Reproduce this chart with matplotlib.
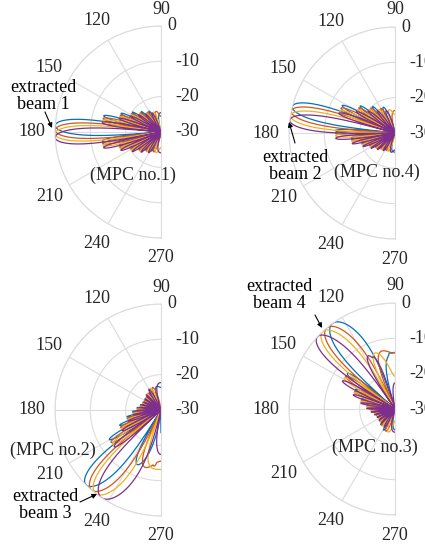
import numpy as np
import matplotlib.pyplot as plt

plt.rcParams['font.family'] = ['Liberation Serif', 'DejaVu Serif']
plt.rcParams['font.size'] = 13

W, H = 425, 544
n_elem = 17
spacing = 0.4  # element spacing in wavelengths
colors = ['#0072BD', '#D95319', '#EDB120', '#7E2F8E']

# steering angle (deg) of the four curves in each panel
mpc1_steer = [176.5, 179.0, 181.0, 183.0]
mpc4_steer = [165.5, 168.0, 170.5, 173.0]
mpc2_steer = [225.0, 229.0, 232.0, 236.0]
mpc3_steer = [126.0, 130.0, 133.0, 137.0]

# extra side beams (direction in deg, level in dB) in the lower panels
mpc2_spur_deg = [276.0, 263.0, 268.0, 281.0]
mpc2_spur_db = [-14.5, -14.0, -13.8, -15.0]
mpc3_spur_deg = [95.0, 91.0, 105.0, 113.0]
mpc3_spur_db = [-14.0, -14.0, -14.5, -14.0]

panel_names = ['(MPC no.1)', '(MPC no.4)', '(MPC no.2)', '(MPC no.3)']
beam_names = ['extracted\nbeam 1', 'extracted\nbeam 2', 'extracted\nbeam 3', 'extracted\nbeam 4']
r_ticks = [0, -10, -20, -30]
theta_ticks = [90, 120, 150, 180, 210, 240, 270]


def fig_xy(x, y):
    return x / W, 1 - y / H


def array_db(theta, steer):
    psi = 2 * np.pi * spacing * (np.sin(theta) - np.sin(np.deg2rad(steer)))
    den = n_elem * np.sin(psi / 2)
    small = np.abs(den) < 1e-9
    af = np.where(small, 1.0, np.sin(n_elem * psi / 2) / np.where(small, 1, den))
    return 20 * np.log10(np.abs(af) + 1e-6)


def spur_db(theta, direction, level):
    d = np.angle(np.exp(1j * (theta - np.deg2rad(direction))))
    x = n_elem * np.pi * spacing * d
    small = np.abs(x) < 1e-9
    af = np.where(small, 1.0, np.sin(x) / np.where(small, 1, x))
    out = level + 20 * np.log10(np.abs(af) + 1e-6)
    return np.where(np.abs(x) < np.pi, out, -100)


theta = np.deg2rad(np.linspace(90, 270, 4000))

panels = [
    (mpc1_steer, None, None),
    (mpc4_steer, None, None),
    (mpc2_steer, mpc2_spur_deg, mpc2_spur_db),
    (mpc3_steer, mpc3_spur_deg, mpc3_spur_db),
]
centers = [(161, 132), (395, 133), (161, 410), (395, 409)]
R = 106

fig = plt.figure(figsize=(W / 100, H / 100), dpi=100)
axes = []

for i, (steer, spur_deg, spur_lvl) in enumerate(panels):
    ax = fig.add_axes([0.1, 0.1, 0.4, 0.4], projection='polar')
    ax.set_thetamin(90)
    ax.set_thetamax(270)
    ax.set_rlim(-30, 0)
    ax.set_rticks([-20, -10, 0])
    ax.set_yticklabels([])
    ax.set_thetagrids(theta_ticks, labels=[])
    ax.grid(color='#dcdcdc', lw=0.8)
    for s in ax.spines.values():
        s.set_color('#dcdcdc')
        s.set_linewidth(0.8)
    ax.patch.set_alpha(0)

    for k in range(4):
        db = array_db(theta, steer[k])
        if spur_deg is not None:
            db = np.maximum(db, spur_db(theta, spur_deg[k], spur_lvl[k]))
        ax.plot(theta, np.clip(db, -30, 0), color=colors[k], lw=0.9)

    # angle labels just outside the rim
    for t in theta_ticks:
        off = 17 if t == 90 else (20 if t == 270 else 23)
        a = np.deg2rad(t)
        ax.annotate(str(t), xy=(a, 0), xytext=(off * np.cos(a), off * np.sin(a)),
                    textcoords='offset pixels', ha='center', va='center',
                    color='#262626', annotation_clip=False)

    # radial labels along the 90/270 edge
    for t in r_ticks:
        ax.annotate(str(t), xy=(np.pi / 2, t), xytext=(6 if t == 0 else 14, 0),
                    textcoords='offset pixels', ha='left', va='center',
                    color='#262626', annotation_clip=False)
    axes.append(ax)

# place every wedge so that its centre and radius land where the reference has them
for _ in range(3):
    fig.canvas.draw()
    for ax, (cx, cy) in zip(axes, centers):
        c = ax.transData.transform((np.pi / 2, -30))
        top = ax.transData.transform((np.pi / 2, 0))
        rad = top[1] - c[1]
        pos = ax.get_position()
        s = R / rad
        tx, ty = cx, H - cy
        x0 = tx - (c[0] - pos.x0 * W) * s
        y0 = ty - (c[1] - pos.y0 * H) * s
        ax.set_position([x0 / W, y0 / H, pos.width * s, pos.height * s])

# panel captions
caption_pos = [(133, 175), (377, 172), (53, 450), (375, 447)]
for name, (x, y) in zip(panel_names, caption_pos):
    fig.text(*fig_xy(x, y), name, ha='center', va='center', color='#262626')

# beam labels with arrows
beam_text = [(43, 96), (295, 166), (45, 505), (279, 295)]
arrow_from = [(45, 112), (295, 143), (80, 502), (315, 315)]
arrow_to = [(52, 128), (289, 122), (97, 494), (322, 328)]
for name, tp, a0, a1 in zip(beam_names, beam_text, arrow_from, arrow_to):
    fig.text(*fig_xy(*tp), name, ha='center', va='center', linespacing=1.0)
    fig.add_artist(plt.Annotation('', xy=fig_xy(*a1), xytext=fig_xy(*a0),
                                  xycoords='figure fraction', textcoords='figure fraction',
                                  arrowprops=dict(arrowstyle='-|>', color='k', lw=0.8,
                                                  mutation_scale=7, shrinkA=0, shrinkB=0)))

fig.savefig('out.png', dpi=100)
